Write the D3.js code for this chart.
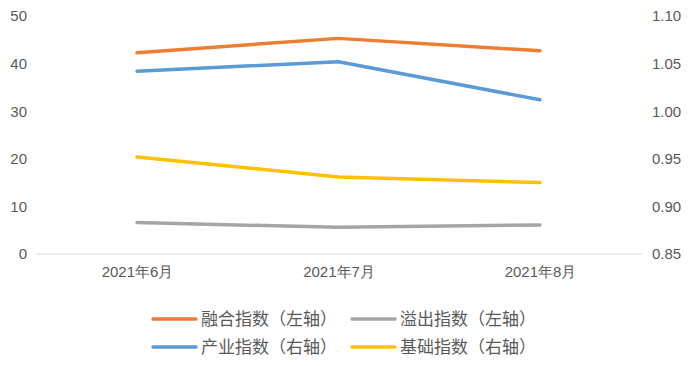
<!DOCTYPE html>
<html><head><meta charset="utf-8">
<script src="https://cdn.jsdelivr.net/npm/d3@7"></script>
<style>body{margin:0;background:#fff;}svg{display:block;font-family:"Noto Sans CJK SC","Noto Sans",sans-serif;}</style>
</head><body><svg id="c" width="697" height="366"></svg>
<script>
const categories = ["2021年6月", "2021年7月", "2021年8月"];
const ronghe = [42.3, 45.3, 42.7];   // 融合指数（左轴）
const yichu = [6.6, 5.6, 6.1];       // 溢出指数（左轴）
const chanye = [1.042, 1.052, 1.012]; // 产业指数（右轴）
const jichu = [0.952, 0.931, 0.925]; // 基础指数（右轴）
const leftTicks = [0, 10, 20, 30, 40, 50];
const rightTicks = [0.85, 0.90, 0.95, 1.00, 1.05, 1.10];

const series = [
  {name: "融合指数（左轴）", values: ronghe, axis: "L", color: "#ED7D31"},
  {name: "溢出指数（左轴）", values: yichu, axis: "L", color: "#A5A5A5"},
  {name: "产业指数（右轴）", values: chanye, axis: "R", color: "#5B9BD5"},
  {name: "基础指数（右轴）", values: jichu, axis: "R", color: "#FFC000"}
];

const svg = d3.select("#c");
const x = d3.scalePoint().domain(categories).range([137, 540]).padding(0);
const plotL = 36, plotR = 642;
const yL = d3.scaleLinear().domain([0, 50]).range([254, 16]);
const yR = d3.scaleLinear().domain([0.85, 1.10]).range([254, 16]);

// baseline
svg.append("line").attr("x1", plotL).attr("x2", plotR).attr("y1", yL(0)).attr("y2", yL(0))
  .attr("stroke", "#D9D9D9").attr("stroke-width", 1);

const tickStyle = s => s.attr("fill", "#595959").attr("font-size", 15);
// left axis
const gl = svg.append("g").attr("transform", `translate(27,0)`)
  .call(d3.axisLeft(yL).tickValues(leftTicks).tickSize(0).tickPadding(0).tickFormat(d3.format("d")));
gl.select(".domain").remove();
gl.selectAll("text").call(tickStyle).attr("font-family", "Liberation Sans, Arial, sans-serif");
// right axis
const gr = svg.append("g").attr("transform", `translate(652,0)`)
  .call(d3.axisRight(yR).tickValues(rightTicks).tickSize(0).tickPadding(0).tickFormat(d3.format(".2f")));
gr.select(".domain").remove();
gr.selectAll("text").call(tickStyle).attr("font-family", "Liberation Sans, Arial, sans-serif");
// x axis
const gx = svg.append("g").attr("transform", `translate(0,${yL(0)})`)
  .call(d3.axisBottom(x).tickSize(0).tickPadding(12));
gx.select(".domain").remove();
gx.selectAll("text").call(tickStyle).attr("font-size", 15);

// lines
series.forEach(s => {
  const ys = s.axis === "L" ? yL : yR;
  const line = d3.line().x((d, i) => x(categories[i])).y(d => ys(d));
  svg.append("path").datum(s.values).attr("d", line)
    .attr("fill", "none").attr("stroke", s.color).attr("stroke-width", 3.5)
    .attr("stroke-linejoin", "round").attr("stroke-linecap", "round");
});

// legend
const legPos = [[153, 319], [352, 319], [153, 347], [352, 347]];
series.forEach((s, i) => {
  const [lx, ly] = legPos[i];
  const g = svg.append("g").attr("transform", `translate(${lx},${ly})`);
  g.append("line").attr("x1", 0).attr("x2", 43).attr("y1", 0).attr("y2", 0)
    .attr("stroke", s.color).attr("stroke-width", 3.5).attr("stroke-linecap", "round");
  g.append("text").attr("x", 48).attr("y", 0).attr("dy", "0.35em")
    .attr("fill", "#595959").attr("font-size", 17).text(s.name);
});
</script></body></html>
